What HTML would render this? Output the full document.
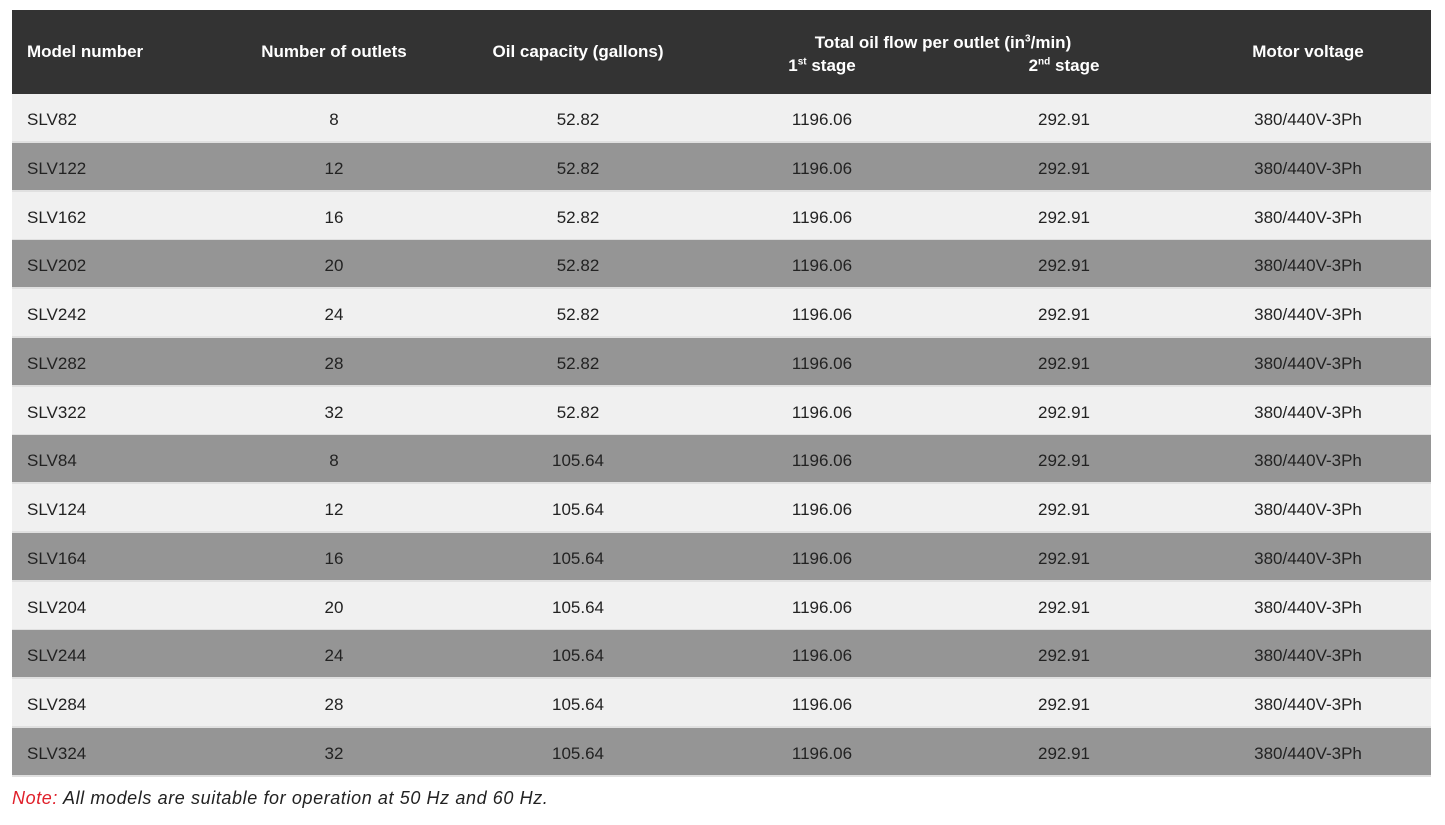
<!DOCTYPE html>
<html><head><meta charset="utf-8"><style>
body{margin:0;width:1445px;height:825px;background:#fff;position:relative;font-family:"Liberation Sans",sans-serif;overflow:hidden}
.hd{position:absolute;left:12px;top:10px;width:1419px;height:84px;background:#333;}
.t{position:absolute;color:#fff;font-weight:bold;font-size:17px;white-space:nowrap;transform:translateX(-50%)}
.row{position:absolute;left:12px;width:1419px;height:47px;border-bottom:2px solid #e0e0e0}
.l{background:#f0f0f0}.d{background:#959595}
.c{position:absolute;top:2px;line-height:48px;font-size:17px;color:#222;transform:translateX(-50%);white-space:nowrap}
.c1{left:15px;transform:none}.c2{left:322px}.c3{left:566px}.c4{left:810px}.c5{left:1052px}.c6{left:1296px}
.note{position:absolute;left:12px;top:788px;font-size:18px;letter-spacing:0.6px;font-style:italic;color:#222}
</style></head><body>
<div class="hd"></div>
<div class="t" style="left:27px;top:42px;transform:none">Model number</div>
<div class="t" style="left:334px;top:42px">Number of outlets</div>
<div class="t" style="left:578px;top:42px">Oil capacity (gallons)</div>
<div class="t" style="left:943px;top:33px">Total oil flow per outlet (in<sup style="font-size:10px">3</sup>/min)</div>
<div class="t" style="left:822px;top:56px">1<sup style="font-size:10px">st</sup> stage</div>
<div class="t" style="left:1064px;top:56px">2<sup style="font-size:10px">nd</sup> stage</div>
<div class="t" style="left:1308px;top:42px">Motor voltage</div>

<div class="row l" style="top:94px"><div class="c c1">SLV82</div><div class="c c2">8</div><div class="c c3">52.82</div><div class="c c4">1196.06</div><div class="c c5">292.91</div><div class="c c6">380/440V-3Ph</div></div>
<div class="row d" style="top:142.75px"><div class="c c1">SLV122</div><div class="c c2">12</div><div class="c c3">52.82</div><div class="c c4">1196.06</div><div class="c c5">292.91</div><div class="c c6">380/440V-3Ph</div></div>
<div class="row l" style="top:191.5px"><div class="c c1">SLV162</div><div class="c c2">16</div><div class="c c3">52.82</div><div class="c c4">1196.06</div><div class="c c5">292.91</div><div class="c c6">380/440V-3Ph</div></div>
<div class="row d" style="top:240.25px"><div class="c c1">SLV202</div><div class="c c2">20</div><div class="c c3">52.82</div><div class="c c4">1196.06</div><div class="c c5">292.91</div><div class="c c6">380/440V-3Ph</div></div>
<div class="row l" style="top:289px"><div class="c c1">SLV242</div><div class="c c2">24</div><div class="c c3">52.82</div><div class="c c4">1196.06</div><div class="c c5">292.91</div><div class="c c6">380/440V-3Ph</div></div>
<div class="row d" style="top:337.75px"><div class="c c1">SLV282</div><div class="c c2">28</div><div class="c c3">52.82</div><div class="c c4">1196.06</div><div class="c c5">292.91</div><div class="c c6">380/440V-3Ph</div></div>
<div class="row l" style="top:386.5px"><div class="c c1">SLV322</div><div class="c c2">32</div><div class="c c3">52.82</div><div class="c c4">1196.06</div><div class="c c5">292.91</div><div class="c c6">380/440V-3Ph</div></div>
<div class="row d" style="top:435.25px"><div class="c c1">SLV84</div><div class="c c2">8</div><div class="c c3">105.64</div><div class="c c4">1196.06</div><div class="c c5">292.91</div><div class="c c6">380/440V-3Ph</div></div>
<div class="row l" style="top:484px"><div class="c c1">SLV124</div><div class="c c2">12</div><div class="c c3">105.64</div><div class="c c4">1196.06</div><div class="c c5">292.91</div><div class="c c6">380/440V-3Ph</div></div>
<div class="row d" style="top:532.75px"><div class="c c1">SLV164</div><div class="c c2">16</div><div class="c c3">105.64</div><div class="c c4">1196.06</div><div class="c c5">292.91</div><div class="c c6">380/440V-3Ph</div></div>
<div class="row l" style="top:581.5px"><div class="c c1">SLV204</div><div class="c c2">20</div><div class="c c3">105.64</div><div class="c c4">1196.06</div><div class="c c5">292.91</div><div class="c c6">380/440V-3Ph</div></div>
<div class="row d" style="top:630.25px"><div class="c c1">SLV244</div><div class="c c2">24</div><div class="c c3">105.64</div><div class="c c4">1196.06</div><div class="c c5">292.91</div><div class="c c6">380/440V-3Ph</div></div>
<div class="row l" style="top:679px"><div class="c c1">SLV284</div><div class="c c2">28</div><div class="c c3">105.64</div><div class="c c4">1196.06</div><div class="c c5">292.91</div><div class="c c6">380/440V-3Ph</div></div>
<div class="row d" style="top:727.75px"><div class="c c1">SLV324</div><div class="c c2">32</div><div class="c c3">105.64</div><div class="c c4">1196.06</div><div class="c c5">292.91</div><div class="c c6">380/440V-3Ph</div></div>

<div class="note"><span style="color:#e0202a">Note:</span> All models are suitable for operation at 50 Hz and 60 Hz.</div>
</body></html>
